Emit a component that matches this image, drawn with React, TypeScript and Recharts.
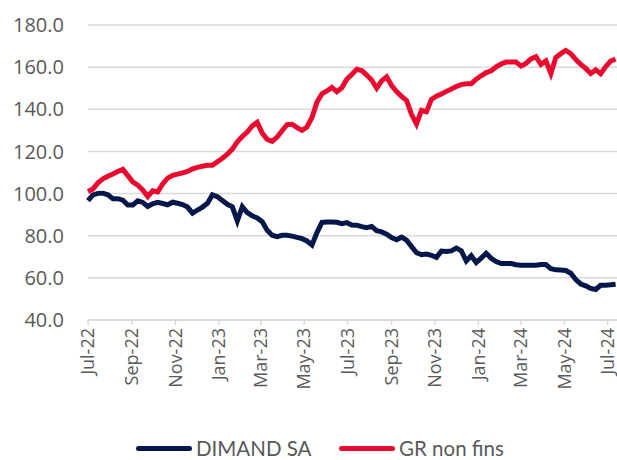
import { LineChart, Line, XAxis, YAxis, CartesianGrid } from "recharts";

// Weekly closes, rebased to 100 at start
const DATES = [
  "2022-07-01", "2022-07-08", "2022-07-15", "2022-07-22", "2022-07-29",
  "2022-08-05", "2022-08-12", "2022-08-19", "2022-08-26",
  "2022-09-02", "2022-09-09", "2022-09-16", "2022-09-23", "2022-09-30",
  "2022-10-07", "2022-10-14", "2022-10-21", "2022-10-28",
  "2022-11-04", "2022-11-11", "2022-11-18", "2022-11-25",
  "2022-12-02", "2022-12-09", "2022-12-16", "2022-12-23", "2022-12-30",
  "2023-01-06", "2023-01-13", "2023-01-20", "2023-01-27",
  "2023-02-03", "2023-02-10", "2023-02-17", "2023-02-24",
  "2023-03-03", "2023-03-10", "2023-03-17", "2023-03-24", "2023-03-31",
  "2023-04-07", "2023-04-14", "2023-04-21", "2023-04-28",
  "2023-05-05", "2023-05-12", "2023-05-19", "2023-05-26",
  "2023-06-02", "2023-06-09", "2023-06-16", "2023-06-23", "2023-06-30",
  "2023-07-07", "2023-07-14", "2023-07-21", "2023-07-28",
  "2023-08-04", "2023-08-11", "2023-08-18", "2023-08-25",
  "2023-09-01", "2023-09-08", "2023-09-15", "2023-09-22", "2023-09-29",
  "2023-10-06", "2023-10-13", "2023-10-20", "2023-10-27",
  "2023-11-03", "2023-11-10", "2023-11-17", "2023-11-24",
  "2023-12-01", "2023-12-08", "2023-12-15", "2023-12-22", "2023-12-29",
  "2024-01-05", "2024-01-12", "2024-01-19", "2024-01-26",
  "2024-02-02", "2024-02-09", "2024-02-16", "2024-02-23",
  "2024-03-01", "2024-03-08", "2024-03-15", "2024-03-22", "2024-03-29",
  "2024-04-05", "2024-04-12", "2024-04-19", "2024-04-26",
  "2024-05-03", "2024-05-10", "2024-05-17", "2024-05-24", "2024-05-31",
  "2024-06-07", "2024-06-14", "2024-06-21", "2024-06-28",
  "2024-07-05", "2024-07-12",
];

const DIMAND = [
  96.7, 99.4, 100.1, 100.2, 99.4, 97.6, 97.6, 96.9, 94.6, 94.6,
  96.6, 95.8, 93.9, 95.1, 95.8, 95.3, 94.7, 95.9, 95.4, 94.8,
  93.6, 90.7, 92.2, 93.6, 95.4, 99.4, 98.5, 96.7, 94.9, 93.7,
  87.0, 93.8, 91.0, 89.4, 88.4, 86.6, 82.6, 80.2, 79.6, 80.2,
  80.2, 79.8, 79.2, 78.6, 77.5, 75.6, 81.5, 86.3, 86.5, 86.5,
  86.4, 85.7, 86.2, 85.1, 85.0, 84.3, 83.8, 84.4, 82.4, 81.8,
  80.7, 79.1, 78.1, 79.3, 77.9, 74.9, 71.9, 71.0, 71.3, 70.7,
  69.7, 72.7, 72.5, 72.8, 74.1, 72.8, 68.0, 70.5, 67.3, 69.4,
  71.7, 69.3, 67.7, 66.8, 66.8, 66.8, 66.2, 66.0, 66.0, 66.0,
  66.0, 66.3, 66.3, 64.4, 63.8, 63.7, 63.5, 62.2, 59.2, 57.1,
  56.2, 55.0, 54.5, 56.5, 56.5, 56.7, 57.0,
];

const GR_NON_FINS = [
  101.0, 102.2, 105.1, 107.0, 108.2, 109.3, 110.5, 111.5, 108.5, 105.6,
  104.0, 101.7, 98.6, 101.3, 100.8, 104.6, 107.3, 108.7, 109.2, 109.8,
  110.5, 111.7, 112.4, 113.0, 113.4, 113.4, 115.1, 116.8, 118.7, 121.1,
  124.6, 127.1, 129.2, 132.1, 133.8, 128.7, 125.7, 124.8, 126.8, 129.8,
  132.7, 132.9, 131.3, 130.0, 131.6, 136.1, 143.4, 147.3, 148.7, 150.4,
  148.3, 150.2, 154.3, 156.5, 159.0, 158.4, 156.2, 153.9, 150.0, 153.5,
  155.4, 151.3, 148.4, 146.1, 144.2, 137.6, 133.0, 139.5, 138.8, 144.7,
  146.2, 147.3, 148.5, 149.6, 150.8, 151.7, 152.1, 152.1, 154.3, 155.9,
  157.4, 158.3, 160.1, 161.5, 162.4, 162.4, 162.4, 160.5, 161.8, 163.9,
  165.0, 161.3, 163.0, 157.0, 164.6, 166.4, 167.9, 166.4, 163.6, 161.3,
  159.4, 157.0, 158.7, 156.9, 160.2, 162.9, 163.8,
];

const TICK_DATES = [
  "2022-07-01", "2022-09-01", "2022-11-01", "2023-01-01", "2023-03-01",
  "2023-05-01", "2023-07-01", "2023-09-01", "2023-11-01", "2024-01-01",
  "2024-03-01", "2024-05-01", "2024-07-01",
];
const TICK_LABELS = [
  "Jul-22", "Sep-22", "Nov-22", "Jan-23", "Mar-23", "May-23", "Jul-23",
  "Sep-23", "Nov-23", "Jan-24", "Mar-24", "May-24", "Jul-24",
];
const Y_TICKS = [40, 60, 80, 100, 120, 140, 160, 180];

const NAVY = "#04174a";
const RED = "#ea0a2f";
const GRID = "#d9d9d9";
const TEXT = "#595959";
const FONT = "'Open Sans', sans-serif";

const data = DATES.map((d, i) => ({
  t: Date.parse(d),
  dimand: DIMAND[i],
  gr: GR_NON_FINS[i],
}));

const tickTs = TICK_DATES.map((d) => Date.parse(d));

function XTick({ x, y, payload }: { x: number; y: number; payload: { value: number } }) {
  const i = tickTs.indexOf(payload.value);
  return (
    <text
      x={x}
      y={y}
      transform={`rotate(-90 ${x} ${y})`}
      textAnchor="end"
      dy="0.35em"
      fill={TEXT}
      fontSize={18}
      fontFamily={FONT}
    >
      {TICK_LABELS[i]}
    </text>
  );
}

const LEGEND = [
  { name: "DIMAND SA", color: NAVY, left: 136 },
  { name: "GR non fins", color: RED, left: 339 },
];

export default function App() {
  return (
    <div style={{ position: "absolute", left: 0, top: 0, width: 617, height: 460, background: "#fff" }}>
      <LineChart
        width={617}
        height={460}
        data={data}
        margin={{ top: 25, right: 0, left: 0, bottom: 80 }}
      >
        <CartesianGrid vertical={false} stroke={GRID} strokeWidth={1.5} />
        <XAxis
          dataKey="t"
          type="number"
          scale="time"
          domain={[Date.parse("2022-07-01"), Date.parse("2024-07-14")]}
          ticks={tickTs}
          tick={XTick}
          height={60}
          interval={0}
          tickSize={5}
          tickMargin={3}
          stroke={GRID}
          strokeWidth={1.5}
        />
        <YAxis
          domain={[40, 180]}
          ticks={Y_TICKS}
          width={88}
          axisLine={false}
          tickLine={false}
          tickSize={0}
          tickMargin={24}
          tickFormatter={(v: number) => v.toFixed(1)}
          tick={{ fill: TEXT, fontSize: 20, fontFamily: FONT }}
        />
        <Line
          type="linear"
          dataKey="dimand"
          stroke={NAVY}
          strokeWidth={5}
          dot={false}
          isAnimationActive={false}
        />
        <Line
          type="linear"
          dataKey="gr"
          stroke={RED}
          strokeWidth={5}
          dot={false}
          isAnimationActive={false}
        />
      </LineChart>
      {LEGEND.map((item) => (
        <div
          key={item.name}
          style={{
            position: "absolute",
            left: item.left,
            top: 437,
            height: 22,
            display: "flex",
            alignItems: "center",
            fontFamily: "Lato, sans-serif",
            fontSize: 20.5,
            color: TEXT,
            lineHeight: "22px",
            whiteSpace: "nowrap",
          }}
        >
          <span
            style={{
              display: "inline-block",
              width: 56,
              height: 5,
              borderRadius: 3,
              background: item.color,
              marginRight: 4,
            }}
          />
          {item.name}
        </div>
      ))}
    </div>
  );
}
